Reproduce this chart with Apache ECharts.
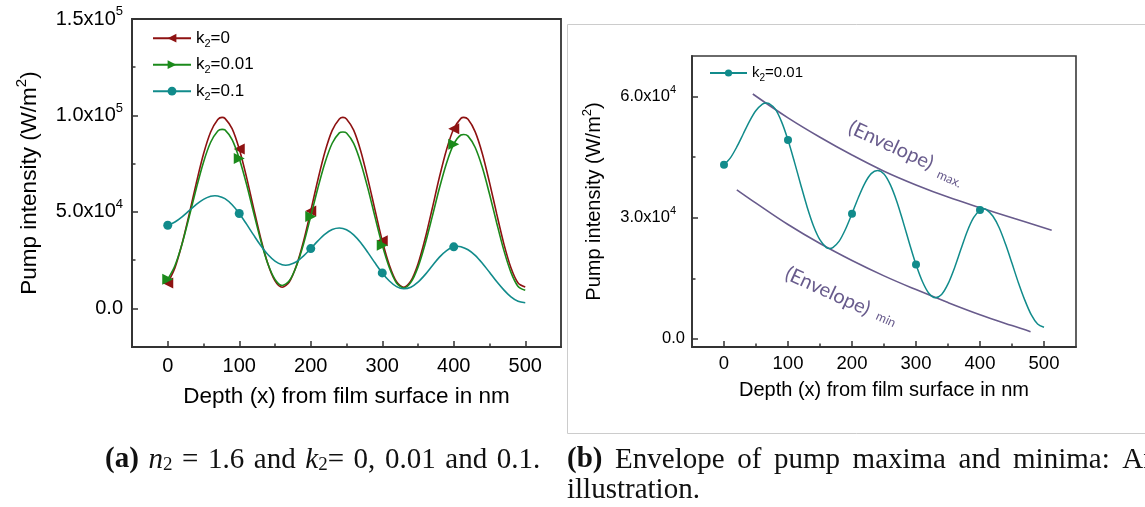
<!DOCTYPE html>
<html><head><meta charset="utf-8">
<script src="https://cdn.jsdelivr.net/npm/echarts@6/dist/echarts.min.js"></script>
<style>html,body{margin:0;padding:0;background:#fff;}#c{width:1145px;height:507px;}</style>
</head><body><div id="c"></div>
<script>
// ---------- data ----------
// Pump intensity (W/m^2) vs depth (nm), panel (a): k2 = 0
const depthK0 = [0,10,20,30,40,50,60,70,76,80,90,100,110,120,130,140,150,160,170,180,190,200,
  210,220,230,240,245,250,260,270,280,290,300,310,320,330,340,350,360,370,380,390,400,
  410,414,420,430,440,450,460,470,480,490,500];
const pumpK0 = [13200,21000,33500,48900,65100,80000,91400,97900,99000,98500,93200,82600,68300,52100,36400,23200,14300,11000,13700,22200,34900,50500,
  66700,81300,92300,98200,99000,98200,92400,81500,66900,50800,35100,22400,13800,11000,14200,23000,36200,51900,68100,82400,93100,
  98500,99000,98000,91500,80200,65300,49100,33600,21100,13200,11100];
// k2 = 0.01
const depthK001 = [0,10,20,30,40,50,60,70,76,80,90,100,110,120,130,140,150,160,170,180,190,200,
  210,220,230,240,245,250,260,270,280,290,300,310,320,330,340,350,360,370,380,390,400,
  410,414,420,430,440,450,460,470,480,490,500];
const pumpK001 = [15100,22100,33400,47500,62300,75800,86100,92000,92800,92500,87500,77700,64600,49800,35300,23100,15000,11900,14300,22000,33500,47700,
  62400,75600,85600,91000,91400,90900,85500,75400,62100,47200,32800,21100,13200,10600,13500,21400,33400,47700,62400,75400,85100,
  89900,90100,89300,83400,73000,59300,44400,30200,18700,11400,9400];
// k2 = 0.1 (also drawn in panel b)
const depthK01 = [0,10,20,30,40,50,60,66,70,80,90,100,110,120,130,140,150,160,165,170,180,190,200,
  210,220,230,240,250,260,270,280,290,300,310,320,330,340,350,360,370,380,390,400,
  405,410,420,430,440,450,460,470,480,490,500];
const pumpK01 = [43100,44800,47500,50700,53900,56500,58100,58400,58300,56900,53700,49200,43800,38100,32600,27900,24500,22600,22400,22600,24200,27200,31000,
  35000,38500,40900,41700,40800,38100,34000,28900,23500,18400,14200,11300,10200,11000,13600,17500,22100,26600,30000,31900,
  32200,32000,30400,27500,23400,18700,13900,9600,6000,3700,2900];
const markerDepths = [0,100,200,300,400];
// Envelopes, panel (b)
const envMaxDepth = [45,100,150,200,250,300,350,400,450,512];
const envMaxValue = [60600,54700,49900,45500,41500,38100,35100,32500,30000,26900];
const envMinDepth = [20,50,100,150,200,250,300,350,400,450,479];
const envMinValue = [36900,33600,28300,23600,19400,15600,12200,9000,6000,3300,1800];
// ticks / labels
const xTickValues = [0,100,200,300,400,500];
const xMinorValues = [50,150,250,350,450];
const yTickValuesA = [0,50000,100000,150000];
const yTickLabelsA = ['0.0','5.0x10^4','1.0x10^5','1.5x10^5'];
const yMinorValuesA = [25000,75000,125000];
const yTickValuesB = [0,30000,60000];
const yTickLabelsB = ['0.0','3.0x10^4','6.0x10^4'];
const yMinorValuesB = [15000,45000];
const legendNamesA = ['k_2=0','k_2=0.01','k_2=0.1'];
const legendNamesB = ['k_2=0.01'];

// ---------- helpers ----------
const FONT = 'Liberation Sans';
function supText(s){ const p = s.split('^'); return p.length>1 ? '{m|'+p[0]+'}{s|'+p[1]+'}' : '{m|'+s+'}'; }
function subText(s){ const p = s.split('_'); return '{m|'+p[0]+'}{b|'+p[1].charAt(0)+'}{m|'+p[1].slice(1)+'}'; }
function lineData(xs, vals){
  return xs.map((x,i)=> markerDepths.indexOf(x)>=0 ? [x, vals[i]] : {value:[x, vals[i]], symbol:'none'});
}
const AX = '#333333';

function mainX(grid, fs, nfs, gap, margin){
  return {gridIndex:grid, type:'value', min:-50, max:550, position:'bottom',
    name:'Depth (x) from film surface in nm', nameLocation:'middle', nameGap:gap,
    nameTextStyle:{fontFamily:FONT, fontSize:nfs, color:'#000'},
    axisLine:{show:true, onZero:false, lineStyle:{color:AX, width:1.8}},
    axisTick:{show:true, inside:true, length:6, customValues:xTickValues, lineStyle:{color:AX, width:1.5}},
    axisLabel:{show:true, customValues:xTickValues, margin:margin, fontFamily:FONT, fontSize:fs, color:'#000'},
    splitLine:{show:false}};
}
function minorX(grid){
  return {gridIndex:grid, type:'value', min:-50, max:550, position:'bottom', offset:0,
    axisLine:{show:false, onZero:false}, axisLabel:{show:false},
    axisTick:{show:true, inside:true, length:3.5, customValues:xMinorValues, lineStyle:{color:AX, width:1.5}},
    splitLine:{show:false}};
}
function mainY(grid, min, max, vals, labels, fs, sfs, nfs, gap, margin, supPad){
  return {gridIndex:grid, type:'value', min:min, max:max, position:'left',
    name:'{m|Pump intensity (W/m}{s|2}{m|)}', nameLocation:'middle', nameGap:gap, nameRotate:90,
    nameTextStyle:{color:'#000', rich:{m:{fontFamily:FONT, fontSize:nfs, lineHeight:nfs+8, color:'#000'},
      s:{fontFamily:FONT, fontSize:Math.round(nfs*0.65), lineHeight:Math.round(nfs*0.65), verticalAlign:'top', color:'#000'}}},
    axisLine:{show:true, onZero:false, lineStyle:{color:AX, width:1.8}},
    axisTick:{show:true, inside:true, length:6, customValues:vals, lineStyle:{color:AX, width:1.5}},
    axisLabel:{show:true, customValues:vals, margin:margin,
      formatter:function(v){ const i = vals.indexOf(v); return supText(labels[i]); },
      rich:{m:{fontFamily:FONT, fontSize:fs, lineHeight:fs+8, color:'#000'},
        s:{fontFamily:FONT, fontSize:sfs, lineHeight:sfs, verticalAlign:'top', color:'#000', padding:[0,supPad,0,0]}}},
    splitLine:{show:false}};
}
function minorY(grid, min, max, vals){
  return {gridIndex:grid, type:'value', min:min, max:max, position:'left', offset:0,
    axisLine:{show:false, onZero:false}, axisLabel:{show:false},
    axisTick:{show:true, inside:true, length:3.5, customValues:vals, lineStyle:{color:AX, width:1.5}},
    splitLine:{show:false}};
}

const RED = '#8e1212', GREEN = '#1b8a1b', TEAL = '#118b8b', PURPLE = '#685b8c';

const chart = echarts.init(document.getElementById('c'), null, {renderer:'canvas'});
const option = {
  animation:false,
  backgroundColor:'#ffffff',
  grid:[
    {left:132, top:19, width:429, height:328, show:true, borderColor:AX, borderWidth:1.8, backgroundColor:'transparent'},
    {left:692, top:56, width:384, height:291, show:true, borderColor:'#3a3a3a', borderWidth:1.6, backgroundColor:'transparent'}
  ],
  xAxis:[
    mainX(0, 20, 22.5, 38, 9), minorX(0),
    mainX(1, 18.5, 20, 33, 7), minorX(1)
  ],
  yAxis:[
    mainY(0, -20000, 150000, yTickValuesA, yTickLabelsA, 20, 13, 22.5, 87, 9, 0), minorY(0, -20000, 150000, yMinorValuesA),
    mainY(1, -2000, 70000, yTickValuesB, yTickLabelsB, 16.5, 11, 20, 83.5, 7, 9), minorY(1, -2000, 70000, yMinorValuesB)
  ],
  legend:[
    {data:legendNamesA, orient:'vertical', left:152, top:29.7, padding:0, itemWidth:38, itemHeight:11, itemGap:7,
      symbolRotate:'inherit',
      formatter:function(n){ return subText(n); },
      textStyle:{rich:{m:{fontFamily:FONT, fontSize:17, lineHeight:22, color:'#000'},
        b:{fontFamily:FONT, fontSize:11, lineHeight:9, verticalAlign:'bottom', color:'#000'}}}},
    {data:legendNamesB.map(n=>n+' '), orient:'vertical', left:709, top:65.5, padding:0, itemWidth:37, itemHeight:9,
      formatter:function(n){ return subText(n.trim()); },
      textStyle:{rich:{m:{fontFamily:FONT, fontSize:15, lineHeight:20, color:'#000'},
        b:{fontFamily:FONT, fontSize:10, lineHeight:8, verticalAlign:'bottom', color:'#000'}}}}
  ],
  series:[
    {name:legendNamesA[0], type:'line', xAxisIndex:0, yAxisIndex:0, smooth:0.3, showAllSymbol:true,
      symbol:'triangle', symbolSize:11, symbolRotate:90, data:lineData(depthK0, pumpK0),
      lineStyle:{color:RED, width:1.6}, itemStyle:{color:RED}, z:3},
    {name:legendNamesA[1], type:'line', xAxisIndex:0, yAxisIndex:0, smooth:0.3, showAllSymbol:true,
      symbol:'triangle', symbolSize:11, symbolRotate:-90, data:lineData(depthK001, pumpK001),
      lineStyle:{color:GREEN, width:1.6}, itemStyle:{color:GREEN}, z:4},
    {name:legendNamesA[2], type:'line', xAxisIndex:0, yAxisIndex:0, smooth:0.3, showAllSymbol:true,
      symbol:'circle', symbolSize:9, data:lineData(depthK01, pumpK01),
      lineStyle:{color:TEAL, width:1.6}, itemStyle:{color:TEAL}, z:5},
    {name:legendNamesB[0]+' ', type:'line', xAxisIndex:2, yAxisIndex:2, smooth:0.3, showAllSymbol:true,
      symbol:'circle', symbolSize:8, data:lineData(depthK01, pumpK01),
      lineStyle:{color:TEAL, width:1.5}, itemStyle:{color:TEAL}, z:5},
    {name:'envMax', type:'line', xAxisIndex:2, yAxisIndex:2, smooth:0.4, showSymbol:false,
      data:envMaxDepth.map((x,i)=>[x, envMaxValue[i]]), lineStyle:{color:PURPLE, width:1.6}, z:4},
    {name:'envMin', type:'line', xAxisIndex:2, yAxisIndex:2, smooth:0.4, showSymbol:false,
      data:envMinDepth.map((x,i)=>[x, envMinValue[i]]), lineStyle:{color:PURPLE, width:1.6}, z:4}
  ]
};
chart.setOption(option);

// ---------- annotations (anchored in data coordinates of panel b) ----------
const envNotes = [
  {text:'(Envelope)', x:261, y:47900, size:20},
  {text:'max.', x:352, y:39600, size:12.5},
  {text:'(Envelope)', x:162, y:11800, size:20},
  {text:'min', x:253, y:4800, size:12.5}
];
const SERIF = 'Liberation Serif';
const capRich = {
  b:{fontFamily:SERIF, fontSize:29, fontWeight:'bold', lineHeight:30, fill:'#111'},
  i:{fontFamily:SERIF, fontSize:29, fontStyle:'italic', lineHeight:30, fill:'#111'},
  s:{fontFamily:SERIF, fontSize:19, lineHeight:20, verticalAlign:'bottom', fill:'#111'},
  g:{fontFamily:SERIF, fontSize:29, lineHeight:30, width:9.6, fill:'#111'},
  w:{fontFamily:SERIF, fontSize:29, lineHeight:30, width:12.6, fill:'#111'}
};
const graphics = [
  {type:'rect', z:0, shape:{x:567.5, y:24.5, width:620, height:409}, style:{fill:'none', stroke:'#cccccc', lineWidth:1}},
  {type:'text', left:105, top:445, style:{
    text:'{b|(a)}{g| }{i|n}{s|2}{g| }={g| }1.6{g| }and{g| }{i|k}{s|2}={g| }0,{g| }0.01{g| }and{g| }0.1.',
    rich:capRich, fontFamily:SERIF, fontSize:29, lineHeight:30, fill:'#111'}},
  {type:'text', left:567, top:445, style:{
    text:'{b|(b)}{w| }Envelope{w| }of{w| }pump{w| }maxima{w| }and{w| }minima:{w| }An\nillustration.',
    rich:capRich, fontFamily:SERIF, fontSize:29, lineHeight:30, fill:'#111'}}
];
envNotes.forEach(n=>{
  const p = chart.convertToPixel({gridIndex:1}, [n.x, n.y]);
  graphics.push({type:'text', x:p[0], y:p[1], rotation:-0.43, z:10,
    style:{text:n.text, fontFamily:'Lato', fontSize:n.size, fill:PURPLE, align:'center', verticalAlign:'middle'}});
});
chart.setOption({graphic:graphics});
</script>
</body></html>
